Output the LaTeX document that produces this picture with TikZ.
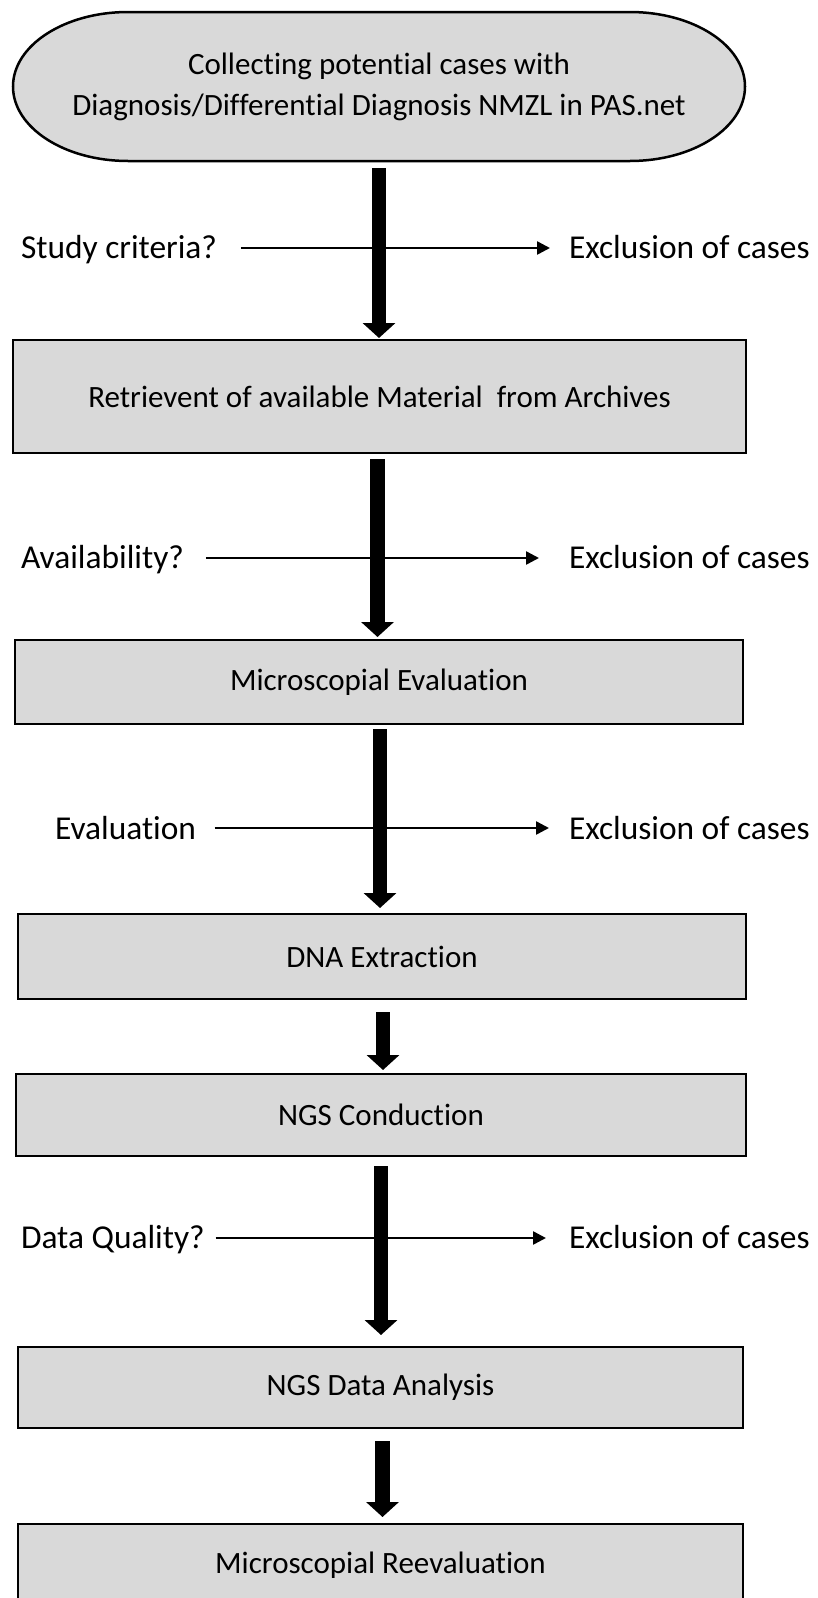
\documentclass[tikz,border=0pt]{standalone}
\usepackage{fontspec}
\setmainfont{Carlito}[Ligatures={NoCommon,NoContextual,NoRequired}, Contextuals={NoAlternate}]
\usetikzlibrary{arrows.meta}
\definecolor{boxgray}{HTML}{D9D9D9}
\newcommand{\nolig}{\kern0pt }
\tikzset{
  stepbox/.style={draw=black, line width=2.5pt, fill=boxgray, rectangle, inner sep=0pt, outer sep=0pt,
    font=\fontsize{31}{37}\selectfont, align=center},
  sidelabel/.style={inner sep=0pt, outer sep=0pt, anchor=base west, font=\fontsize{33.4}{40}\selectfont},
  bigarrow/.style={line width=14.5pt, -{Triangle[width=32pt,length=15pt]}},
  thinarrow/.style={line width=2.5pt, -{Triangle[width=13pt,length=13pt]}},
}
\begin{document}
\begin{tikzpicture}[x=1pt,y=1pt]
\path[use as bounding box] (0,0) rectangle (817,-1598);
\clip (0,0) rectangle (817,-1598);

% start terminator
\draw[line width=2.5pt, fill=boxgray] (128,-12) -- (630,-12)
  arc[start angle=90, end angle=-90, x radius=115, y radius=74.5]
  -- (128,-161)
  arc[start angle=270, end angle=90, x radius=115, y radius=74.5] -- cycle;
\node[inner sep=0pt, outer sep=0pt, minimum width=732pt, minimum height=149pt,
  font=\fontsize{31}{41}\selectfont, align=center] (start) at (379,-86.5)
  {Collecting potent\nolig ial cases with\\Diagnosis/Dif\nolig ferent\nolig ial Diagnosis NMZL in PAS.net};

% process boxes
\node[stepbox, minimum width=733pt, minimum height=113pt] (b2) at (379.5,-396.5)
  {Retrievent of available Material~ from Archives};
\node[stepbox, minimum width=728pt, minimum height=84pt] (b3) at (379,-682)
  {Microscopial Evaluat\nolig ion};
\node[stepbox, minimum width=728pt, minimum height=85pt] (b4) at (382,-956.5)
  {DNA Extract\nolig ion};
\node[stepbox, minimum width=730pt, minimum height=82pt] (b5) at (381,-1115)
  {NGS Conduct\nolig ion};
\node[stepbox, minimum width=725pt, minimum height=81pt] (b6) at (380.5,-1387.5)
  {NGS Data Analysis};
\node[stepbox, minimum width=725pt, minimum height=82pt] (b7) at (380.5,-1565)
  {Microscopial Reevaluat\nolig ion};

% side labels
\node[sidelabel] (q1) at (21,-258.5) {Study criteria?};
\node[sidelabel] (e1) at (569,-258.5) {Exclusion of cases};
\node[sidelabel] (q2) at (21,-568.5) {Availability?};
\node[sidelabel] (e2) at (569,-568.5) {Exclusion of cases};
\node[sidelabel] (q3) at (55,-839) {Evaluat\nolig ion};
\node[sidelabel] (e3) at (569,-839) {Exclusion of cases};
\node[sidelabel] (q4) at (21,-1248.5) {Data Quality?};
\node[sidelabel] (e4) at (569,-1248.5) {Exclusion of cases};

% exclusion arrows (behind the main flow)
\draw[thinarrow] ([shift={(24pt,10.5pt)}]q1.base east) -- ([shift={(-19pt,10.5pt)}]e1.base west);
\draw[thinarrow] ([shift={(22pt,10.5pt)}]q2.base east) -- ([shift={(-30pt,10.5pt)}]e2.base west);
\draw[thinarrow] ([shift={(18.5pt,11pt)}]q3.base east) -- ([shift={(-20pt,11pt)}]e3.base west);
\draw[thinarrow] ([shift={(11pt,10.5pt)}]q4.base east) -- ([shift={(-23pt,10.5pt)}]e4.base west);

% main flow arrows (kept vertical)
\draw[bigarrow] ([yshift=-7pt]start.south) -- ([yshift=2pt]start.south |- b2.north);
\draw[bigarrow] ([shift={(-2pt,-6pt)}]b2.south) -- ([shift={(-2pt,3pt)}]b2.south |- b3.north);
\draw[bigarrow] ([shift={(1pt,-5pt)}]b3.south) -- ([shift={(1pt,6pt)}]b3.south |- b4.north);
\draw[bigarrow] ([shift={(1pt,-13pt)}]b4.south) -- ([shift={(1pt,4pt)}]b4.south |- b5.north);
\draw[bigarrow] ([yshift=-10pt]b5.south) -- ([yshift=12pt]b5.south |- b6.north);
\draw[bigarrow] ([shift={(2pt,-13pt)}]b6.south) -- ([shift={(2pt,7pt)}]b6.south |- b7.north);
\end{tikzpicture}
\end{document}
